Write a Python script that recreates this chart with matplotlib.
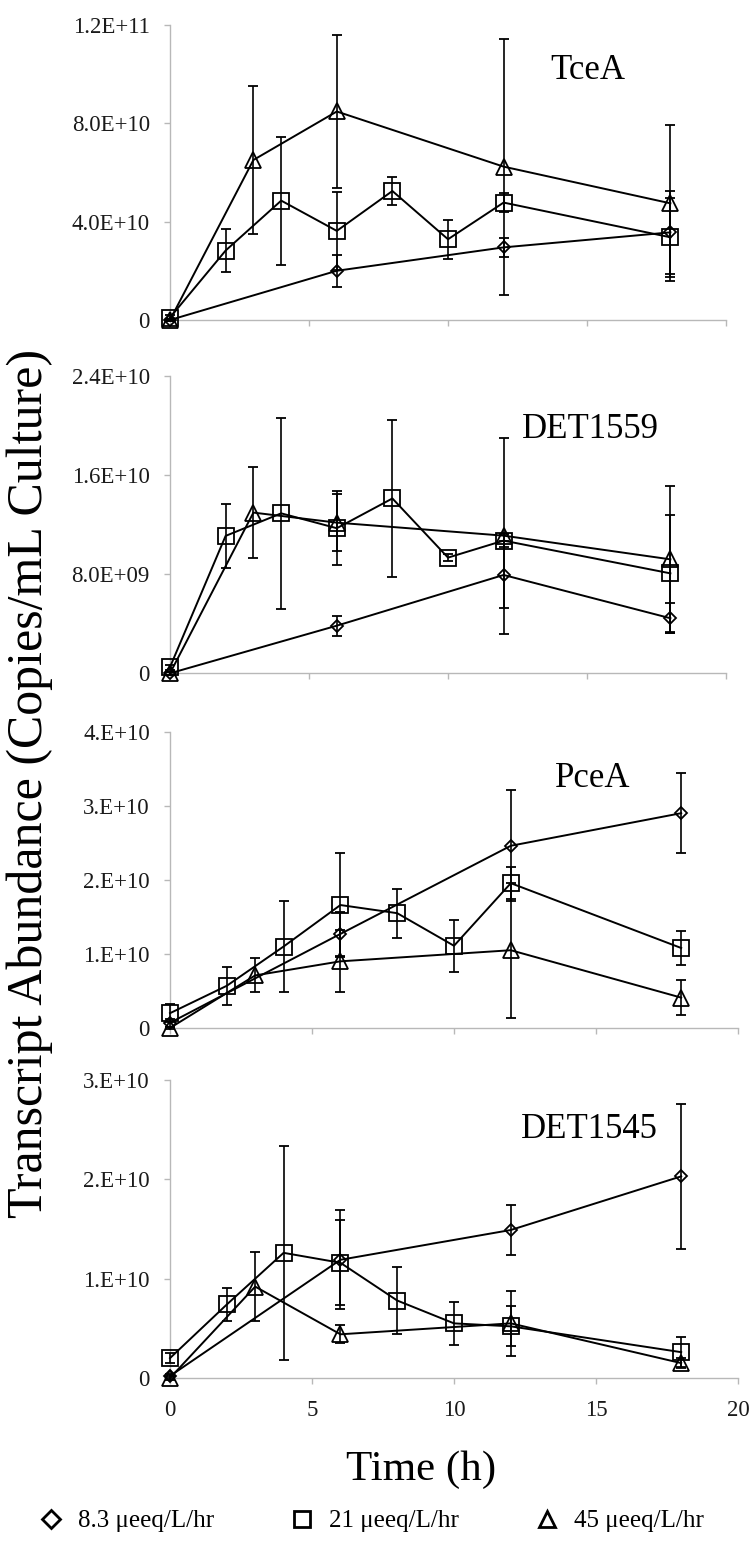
import matplotlib
matplotlib.use("Agg")
import matplotlib.pyplot as plt
from matplotlib.lines import Line2D
import numpy as np

plt.rcParams['font.family'] = ['Liberation Serif', 'DejaVu Serif']

# ---------------- data ----------------
t_d = [0, 6, 12, 18]                  # 8.3 ueeq/L/hr (diamond)
t_s = [0, 2, 4, 6, 8, 10, 12, 18]     # 21 ueeq/L/hr (square)
t_t = [0, 3, 6, 12, 18]               # 45 ueeq/L/hr (triangle)

genes = ["TceA", "DET1559", "PceA", "DET1545"]
scales = [1e10, 1e9, 1e10, 1e10]

# TceA (x1e10)
tcea_d = [0.0, 2.0, 2.95, 3.56]
tcea_d_err = [0.05, 0.65, 0.4, 1.7]
tcea_s = [0.1, 2.82, 4.85, 3.62, 5.24, 3.28, 4.77, 3.36]
tcea_s_err = [0.1, 0.87, 2.6, 1.6, 0.55, 0.8, 0.4, 1.6]
tcea_t = [0.0, 6.5, 8.47, 6.23, 4.74]
tcea_t_err = [0.05, 3.0, 3.1, 5.2, 3.17]

# DET1559 (x1e9)
d1559_d = [0.0, 3.84, 7.93, 4.44]
d1559_d_err = [0.1, 0.8, 2.7, 1.2]
d1559_s = [0.5, 11.08, 12.9, 11.7, 14.1, 9.33, 10.7, 8.06]
d1559_s_err = [0.2, 2.6, 7.7, 3.0, 6.3, 0.3, 0.5, 4.7]
d1559_t = [0.0, 12.96, 12.15, 11.1, 9.19]
d1559_t_err = [0.1, 3.7, 2.3, 7.9, 5.9]

# PceA (x1e10)
pcea_d = [0.07, 1.27, 2.46, 2.9]
pcea_d_err = [0.05, 0.3, 0.75, 0.54]
pcea_s = [0.2, 0.57, 1.1, 1.66, 1.55, 1.11, 1.955, 1.08]
pcea_s_err = [0.12, 0.26, 0.62, 0.7, 0.33, 0.35, 0.22, 0.23]
pcea_t = [0.0, 0.71, 0.9, 1.05, 0.41]
pcea_t_err = [0.02, 0.23, 0.42, 0.91, 0.24]

# DET1545 (x1e10)
d1545_d = [0.02, 1.19, 1.49, 2.03]
d1545_d_err = [0.02, 0.5, 0.25, 0.73]
d1545_s = [0.2, 0.74, 1.26, 1.16, 0.78, 0.55, 0.52, 0.26]
d1545_s_err = [0.05, 0.17, 1.08, 0.43, 0.34, 0.22, 0.2, 0.15]
d1545_t = [0.0, 0.92, 0.44, 0.55, 0.15]
d1545_t_err = [0.02, 0.35, 0.09, 0.33, 0.05]

ytick_vals = [[0, 4e10, 8e10, 1.2e11],
              [0, 8e9, 1.6e10, 2.4e10],
              [0, 1e10, 2e10, 3e10, 4e10],
              [0, 1e10, 2e10, 3e10]]
ytick_labels = [["0", "4.0E+10", "8.0E+10", "1.2E+11"],
                ["0", "8.0E+09", "1.6E+10", "2.4E+10"],
                ["0", "1.E+10", "2.E+10", "3.E+10", "4.E+10"],
                ["0", "1.E+10", "2.E+10", "3.E+10"]]
xtick_vals = [0, 5, 10, 15, 20]
xtick_labels = ["0", "5", "10", "15", "20"]

series_labels = ["8.3 \u03bceeq/L/hr", "21 \u03bceeq/L/hr", "45 \u03bceeq/L/hr"]

panel_data = [
    ((tcea_d, tcea_d_err), (tcea_s, tcea_s_err), (tcea_t, tcea_t_err)),
    ((d1559_d, d1559_d_err), (d1559_s, d1559_s_err), (d1559_t, d1559_t_err)),
    ((pcea_d, pcea_d_err), (pcea_s, pcea_s_err), (pcea_t, pcea_t_err)),
    ((d1545_d, d1545_d_err), (d1545_s, d1545_s_err), (d1545_t, d1545_t_err)),
]

# ---------------- layout (pixels) ----------------
W, H = 752, 1542
fig = plt.figure(figsize=(W / 100, H / 100), dpi=100)
panel_px = [(170, 726, 24.6, 320), (170, 726, 375.7, 673.3),
            (170, 738, 731.7, 1028), (170, 738, 1080, 1378)]
label_px = [(550, 79), (522, 438), (555, 787), (521, 1138)]

grey = "#b8b8b8"
times_list = [t_d, t_s, t_t]
markers = ["D", "s", "^"]
msizes = [6.6, 11.2, 11.2]

for i, (l, r, t, b) in enumerate(panel_px):
    ax = fig.add_axes([l / W, 1 - b / H, (r - l) / W, (b - t) / H])
    for j in range(3):
        vals, errs = panel_data[i][j]
        y = np.array(vals) * scales[i]
        e = np.array(errs) * scales[i]
        ax.errorbar(times_list[j], y, yerr=e, color="black", lw=1.4,
                    marker=markers[j], ms=msizes[j], mfc="none", mec="black",
                    mew=1.3, elinewidth=1.2, capsize=3.5, capthick=1.2,
                    clip_on=False, zorder=3)
    ax.set_xlim(0, 20)
    ax.set_ylim(ytick_vals[i][0], ytick_vals[i][-1])
    ax.set_yticks(ytick_vals[i])
    ax.set_yticklabels(ytick_labels[i])
    ax.set_xticks(xtick_vals)
    if i == 3:
        ax.set_xticklabels(xtick_labels)
    else:
        ax.set_xticklabels([])
    for s in ["top", "right"]:
        ax.spines[s].set_visible(False)
    for s in ["left", "bottom"]:
        ax.spines[s].set_color(grey)
        ax.spines[s].set_linewidth(1.0)
    ax.tick_params(axis="both", direction="out", length=4.5, width=1.0,
                   color=grey, labelsize=16.5, labelcolor="#1a1a1a")
    ax.tick_params(axis="y", pad=10)
    ax.tick_params(axis="x", pad=11)
    ax.patch.set_alpha(0)
    lx, ly = label_px[i]
    fig.text(lx / W, 1 - ly / H, genes[i], fontsize=25, ha="left",
             va="baseline", color="black")

fig.text(30 / W, 1 - 783 / H, "Transcript Abundance (Copies/mL Culture)",
         rotation=90, fontsize=36, ha="center", va="center")
fig.text(421 / W, 1 - 1480 / H, "Time (h)", fontsize=31, ha="center",
         va="baseline")

handles = [Line2D([], [], color="none", marker=m, ms=s, mfc="none",
                  mec="black", mew=2.0)
           for m, s in zip(markers, [9.5, 11.5, 11.5])]
fig.legend(handles, series_labels, loc="center left",
           bbox_to_anchor=(38 / W, 1 - 1521 / H), ncol=3, frameon=False,
           fontsize=18, handlelength=1.0, handletextpad=0.6,
           columnspacing=3.0, borderpad=0, borderaxespad=0)

fig.savefig("out.png", dpi=100)
